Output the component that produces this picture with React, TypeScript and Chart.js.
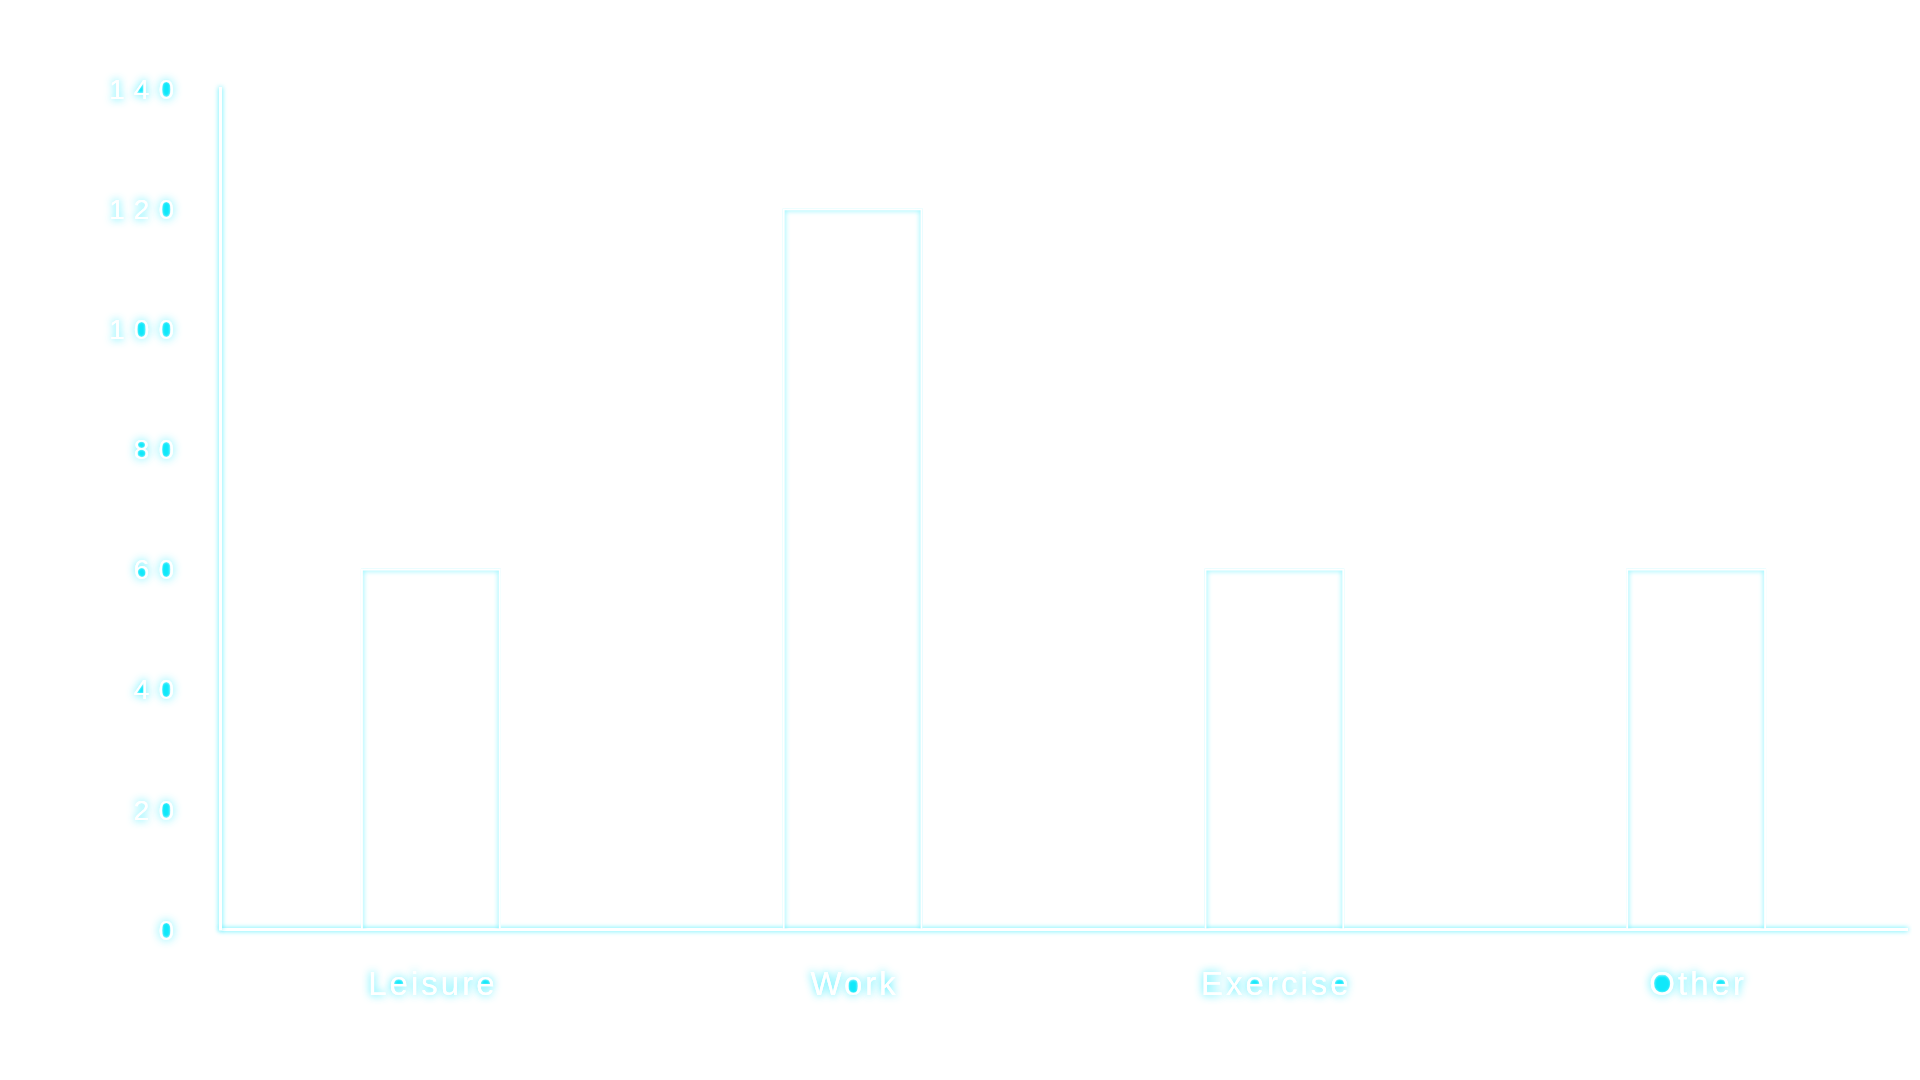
import React, { useEffect, useRef } from "react";
import { Chart, registerables } from "chart.js";

Chart.register(...registerables);

const categories = ["Leisure", "Work", "Exercise", "Other"];
const hours = [60, 120, 60, 60];
const yMin = 0;
const yMax = 140;
const yStep = 20;

const GLOW = "rgba(0,232,255,0.85)";
const HOLE = [16, 232, 250];
const FONT = "Liberation Sans, Arial, sans-serif";

function drawGlowLabel(
  ctx: any,
  text: string,
  x: number,
  y: number,
  align: string,
  size: number,
  spacing: string
) {
  const font = `${size}px ${FONT}`;
  ctx.save();
  ctx.font = font;
  ctx.letterSpacing = spacing;
  ctx.textAlign = align;
  ctx.textBaseline = "middle";
  ctx.shadowColor = GLOW;
  ctx.shadowBlur = 8;
  ctx.fillStyle = "#ffffff";
  ctx.fillText(text, x, y);
  const w = ctx.measureText(text).width;
  ctx.restore();
  const left = align === "right" ? x - w : align === "center" ? x - w / 2 : x;

  // fill enclosed counters (holes) of the glyphs with cyan
  const pad = 6;
  const W = Math.ceil(w) + 2 * pad;
  const H = Math.ceil(size * 1.6) + 2 * pad;
  const oc = document.createElement("canvas");
  oc.width = W;
  oc.height = H;
  const o: any = oc.getContext("2d", { willReadFrequently: true });
  o.font = font;
  o.letterSpacing = spacing;
  o.textAlign = "left";
  o.textBaseline = "middle";
  o.fillStyle = "#000";
  o.fillText(text, pad, H / 2);
  const img = o.getImageData(0, 0, W, H);
  const d = img.data;
  const N = W * H;
  const ext = new Uint8Array(N);
  const stack: number[] = [];
  const push = (i: number) => {
    if (!ext[i] && d[i * 4 + 3] < 128) {
      ext[i] = 1;
      stack.push(i);
    }
  };
  for (let px = 0; px < W; px++) {
    push(px);
    push((H - 1) * W + px);
  }
  for (let py = 0; py < H; py++) {
    push(py * W);
    push(py * W + W - 1);
  }
  while (stack.length) {
    const i = stack.pop() as number;
    const px = i % W;
    const py = (i - px) / W;
    if (px > 0) push(i - 1);
    if (px < W - 1) push(i + 1);
    if (py > 0) push(i - W);
    if (py < H - 1) push(i + W);
  }
  const out = o.createImageData(W, H);
  const od = out.data;
  for (let i = 0; i < N; i++) {
    if (!ext[i] && d[i * 4 + 3] < 128) {
      od[i * 4] = HOLE[0];
      od[i * 4 + 1] = HOLE[1];
      od[i * 4 + 2] = HOLE[2];
      od[i * 4 + 3] = 255;
    }
  }
  o.clearRect(0, 0, W, H);
  o.putImageData(out, 0, 0);
  ctx.save();
  ctx.filter = "blur(0.8px)";
  ctx.drawImage(oc, left - pad, y - H / 2);
  ctx.restore();

  ctx.save();
  ctx.font = font;
  ctx.letterSpacing = spacing;
  ctx.textAlign = align;
  ctx.textBaseline = "middle";
  ctx.fillStyle = "#ffffff";
  ctx.fillText(text, x, y);
  ctx.restore();
}

const glowPlugin = {
  id: "glow",
  beforeDraw(chart: any) {
    const ctx = chart.ctx;
    ctx.save();
    ctx.shadowColor = "rgba(0,232,255,0.75)";
    ctx.shadowBlur = 5;
    ctx.shadowOffsetX = 0;
    ctx.shadowOffsetY = 0;
  },
  afterDraw(chart: any) {
    const ctx = chart.ctx;
    ctx.restore();
    const { chartArea } = chart;
    const xs = chart.scales.x;
    const ys = chart.scales.y;
    ys.ticks.forEach((t: any, i: number) => {
      const y = ys.getPixelForTick(i);
      drawGlowLabel(ctx, String(t.label), chartArea.left - 37, y + 3, "right", 28, "9px");
    });
    xs.ticks.forEach((t: any, i: number) => {
      const x = xs.getPixelForTick(i);
      drawGlowLabel(ctx, String(t.label), x + 2, chartArea.bottom + 57, "center", 33, "3px");
    });
  },
};

export default function App() {
  const ref = useRef<HTMLCanvasElement | null>(null);
  useEffect(() => {
    if (!ref.current) return;
    const chart = new Chart(ref.current, {
      type: "bar",
      data: {
        labels: categories,
        datasets: [
          {
            label: "Hours",
            data: hours,
            backgroundColor: "rgba(255,255,255,0)",
            borderColor: "#ffffff",
            borderWidth: 2,
            barPercentage: 0.415,
            categoryPercentage: 0.8,
          },
        ],
      },
      options: {
        animation: false,
        responsive: true,
        maintainAspectRatio: false,
        layout: { padding: { top: 80, right: 5, left: 0, bottom: 0 } },
        plugins: {
          legend: { display: false },
          tooltip: { enabled: false },
        },
        scales: {
          x: {
            grid: { display: false },
            border: { display: true, color: "#ffffff", width: 3 },
            ticks: { display: false },
            afterFit: (s: any) => {
              s.height = 143;
            },
          },
          y: {
            min: yMin,
            max: yMax,
            grid: { display: false },
            border: { display: true, color: "#ffffff", width: 3 },
            ticks: { stepSize: yStep, display: false },
            afterFit: (s: any) => {
              s.width = 212;
            },
          },
        },
      },
      plugins: [glowPlugin],
    });
    return () => chart.destroy();
  }, []);
  return (
    <div style={{ width: 1904, height: 1064, position: "relative", background: "#ffffff" }}>
      <canvas ref={ref} />
    </div>
  );
}
